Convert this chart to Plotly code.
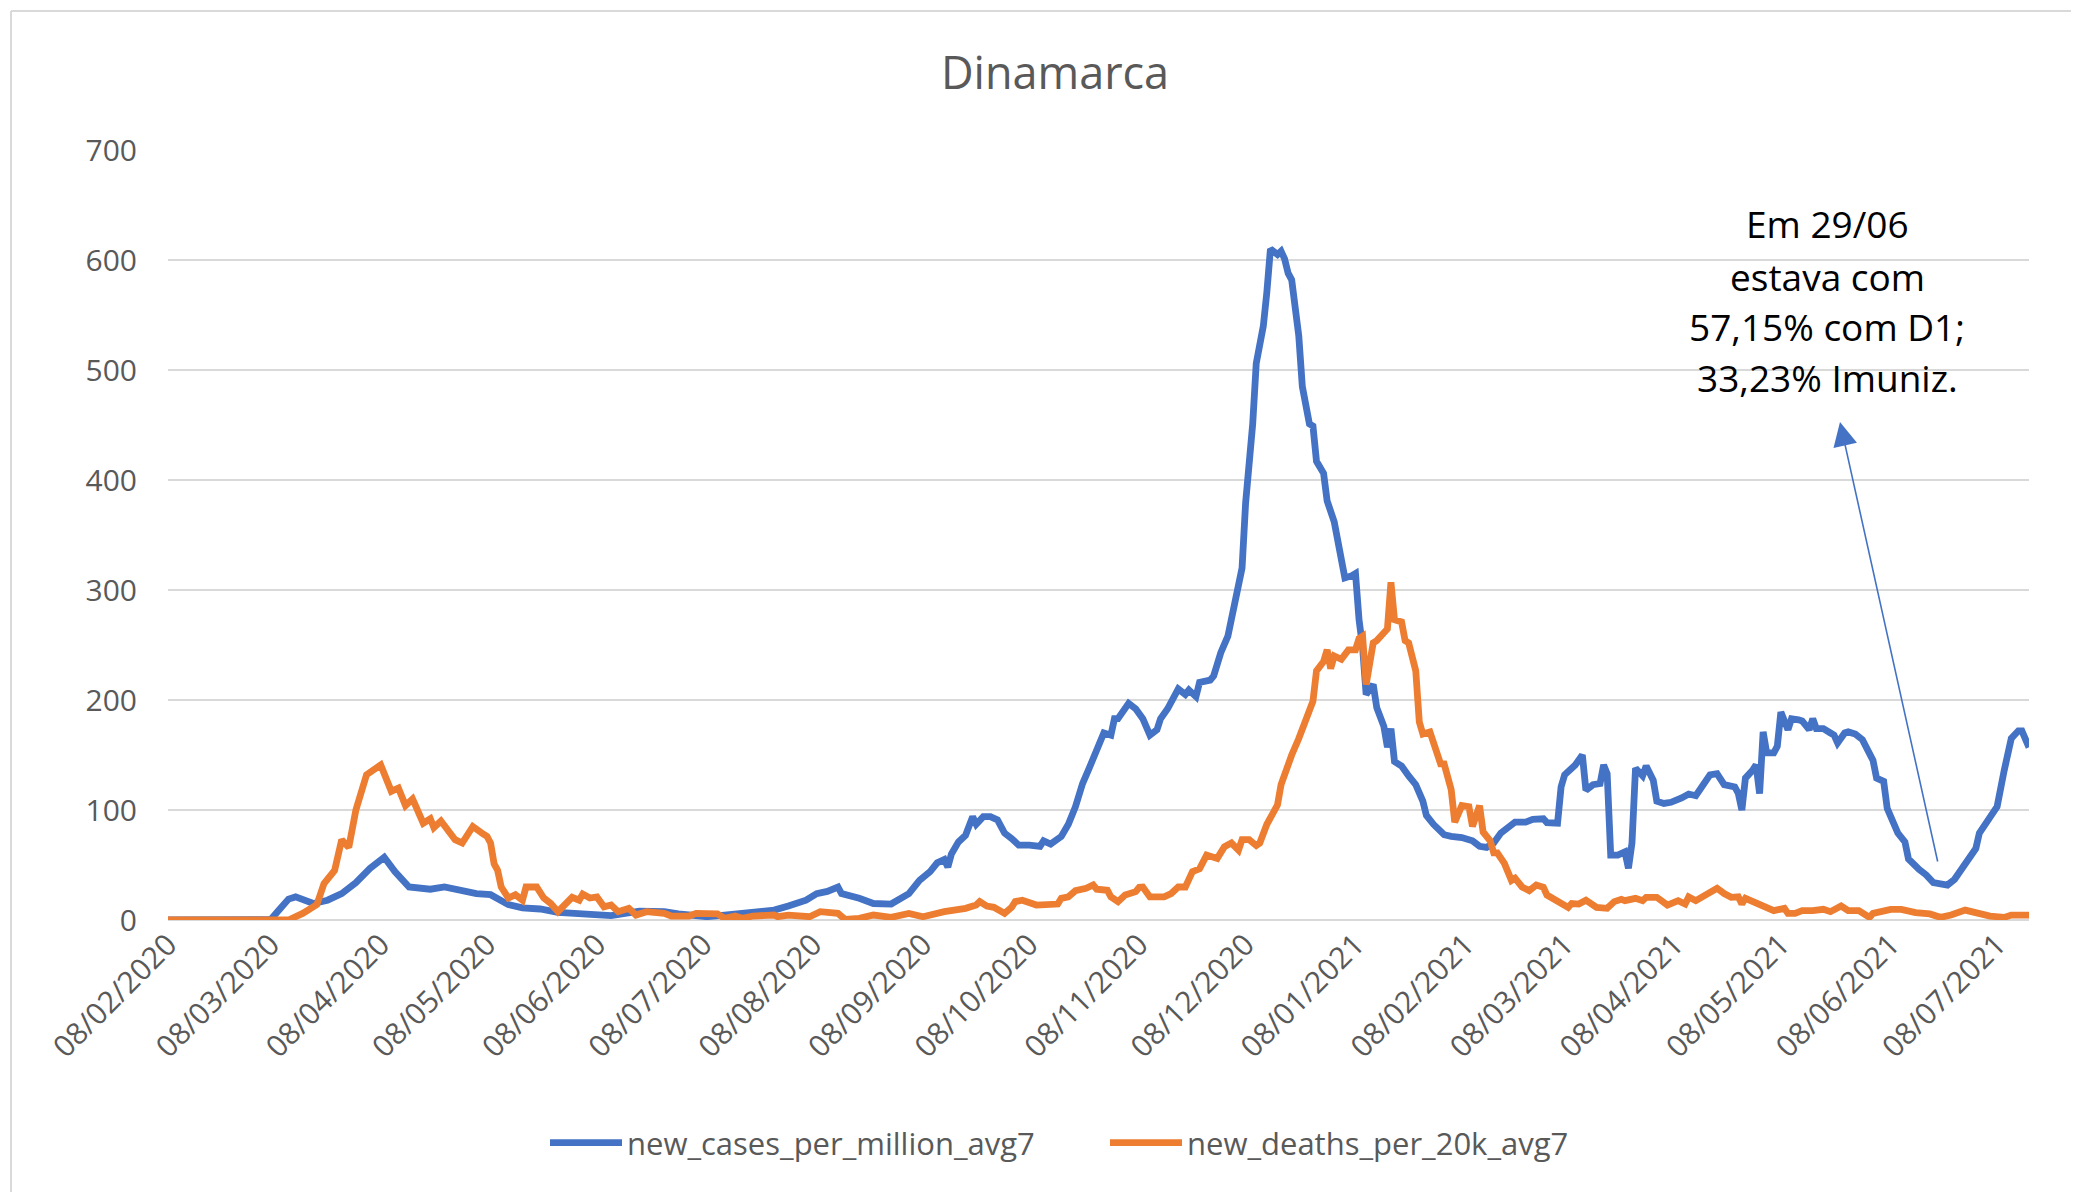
import pandas as pd
import plotly.graph_objects as go

# ---------------- DATA ----------------
title_text = "Dinamarca"
series_names = ["new_cases_per_million_avg7", "new_deaths_per_20k_avg7"]

cases_dates = [
    "2020-02-08", "2020-03-01", "2020-03-08", "2020-03-10", "2020-03-13", "2020-03-15", "2020-03-17",
    "2020-03-20", "2020-03-24", "2020-03-28", "2020-04-01", "2020-04-05", "2020-04-09", "2020-04-12",
    "2020-04-16", "2020-04-22", "2020-04-26", "2020-05-01", "2020-05-05", "2020-05-09", "2020-05-14",
    "2020-05-18", "2020-05-23", "2020-05-28", "2020-06-06", "2020-06-12", "2020-06-20", "2020-06-27",
    "2020-07-01", "2020-07-09", "2020-07-14", "2020-07-23", "2020-07-28", "2020-08-01", "2020-08-06",
    "2020-08-09", "2020-08-12", "2020-08-15", "2020-08-16", "2020-08-21", "2020-08-25", "2020-08-30",
    "2020-09-01", "2020-09-04", "2020-09-07", "2020-09-10", "2020-09-12", "2020-09-14", "2020-09-15",
    "2020-09-16", "2020-09-18", "2020-09-20", "2020-09-22", "2020-09-23", "2020-09-25", "2020-09-27",
    "2020-09-29", "2020-10-01", "2020-10-03", "2020-10-05", "2020-10-08", "2020-10-11", "2020-10-12",
    "2020-10-14", "2020-10-17", "2020-10-19", "2020-10-21", "2020-10-23", "2020-10-25", "2020-10-27",
    "2020-10-29", "2020-10-31", "2020-11-01", "2020-11-02", "2020-11-05", "2020-11-07", "2020-11-09",
    "2020-11-11", "2020-11-13", "2020-11-14", "2020-11-16", "2020-11-19", "2020-11-21", "2020-11-22",
    "2020-11-24", "2020-11-25", "2020-11-28", "2020-11-29", "2020-12-01", "2020-12-03", "2020-12-05",
    "2020-12-07", "2020-12-08", "2020-12-10", "2020-12-11", "2020-12-13", "2020-12-14", "2020-12-15",
    "2020-12-17", "2020-12-18", "2020-12-19", "2020-12-20", "2020-12-21", "2020-12-23", "2020-12-24",
    "2020-12-26", "2020-12-27", "2020-12-28", "2020-12-30", "2020-12-31", "2021-01-02", "2021-01-04",
    "2021-01-05", "2021-01-07", "2021-01-08", "2021-01-09", "2021-01-10", "2021-01-11", "2021-01-13",
    "2021-01-14", "2021-01-16", "2021-01-17", "2021-01-18", "2021-01-19", "2021-01-21", "2021-01-23",
    "2021-01-25", "2021-01-27", "2021-01-28", "2021-01-30", "2021-02-02", "2021-02-04", "2021-02-07",
    "2021-02-10", "2021-02-12", "2021-02-14", "2021-02-16", "2021-02-18", "2021-02-22", "2021-02-25",
    "2021-02-27", "2021-03-02", "2021-03-03", "2021-03-06", "2021-03-07", "2021-03-08", "2021-03-10",
    "2021-03-11", "2021-03-13", "2021-03-14", "2021-03-16", "2021-03-18", "2021-03-19", "2021-03-20",
    "2021-03-21", "2021-03-23", "2021-03-25", "2021-03-26", "2021-03-27", "2021-03-28", "2021-03-30",
    "2021-03-31", "2021-04-02", "2021-04-03", "2021-04-05", "2021-04-07", "2021-04-10", "2021-04-12",
    "2021-04-14", "2021-04-16", "2021-04-18", "2021-04-20", "2021-04-22", "2021-04-25", "2021-04-26",
    "2021-04-27", "2021-04-28", "2021-04-30", "2021-05-01", "2021-05-02", "2021-05-03", "2021-05-04",
    "2021-05-06", "2021-05-07", "2021-05-08", "2021-05-10", "2021-05-11", "2021-05-13", "2021-05-14",
    "2021-05-16", "2021-05-17", "2021-05-18", "2021-05-20", "2021-05-22", "2021-05-23", "2021-05-24",
    "2021-05-26", "2021-05-27", "2021-05-29", "2021-05-31", "2021-06-02", "2021-06-03", "2021-06-04",
    "2021-06-06", "2021-06-07", "2021-06-08", "2021-06-10", "2021-06-12", "2021-06-13", "2021-06-16",
    "2021-06-18", "2021-06-20", "2021-06-22", "2021-06-24", "2021-06-26", "2021-06-28", "2021-06-30",
    "2021-07-02", "2021-07-03", "2021-07-06", "2021-07-08", "2021-07-10", "2021-07-12", "2021-07-14",
    "2021-07-15", "2021-07-17",
]
cases_values = [
    0, 0, 0.5, 8, 19, 21, 19,
    15, 18, 24, 34, 47, 57, 44,
    30, 28, 30, 26, 24, 23, 14,
    11, 10, 7, 6, 4, 8, 7.5,
    5.5, 3, 4.5, 6.7, 9, 12.7, 18,
    24, 26, 30, 24, 19.7, 15, 14.5,
    18, 24, 36, 44, 52, 55, 48,
    60, 71, 77, 94, 87, 94, 94,
    91, 79, 74, 68, 68, 67, 72,
    69, 76, 87, 103, 124, 139, 154,
    170, 168, 183, 183, 197, 192, 183,
    168, 173, 183, 192, 210, 205, 209,
    203, 216, 218, 222, 243, 258, 286,
    320, 379, 451, 506, 540, 571, 610,
    605, 608, 601, 588, 582, 531, 485,
    451, 449, 417, 406, 381, 362, 332,
    311, 313, 315, 273, 248, 205, 214,
    193, 176, 157, 174, 144, 140, 131,
    123, 108, 95, 87, 77.5, 76, 75,
    72, 67, 66, 70, 79, 89, 89,
    91.5, 92, 88.5, 88, 121, 132, 138,
    141, 150, 118, 123, 124, 141, 133,
    59, 59, 62, 47, 70, 138, 131,
    140, 127, 108, 106, 107, 111, 114.5,
    113, 124, 132, 133, 123, 121, 115,
    100, 129, 136, 141, 115, 171, 152,
    152, 158, 189, 173, 183, 182, 181,
    173, 183, 174, 174, 170, 168, 161,
    170, 171, 169, 164, 151.5, 145, 129,
    126, 101.5, 94, 79, 71, 55.5, 46,
    41, 34, 32.7, 31.8, 37, 45.5, 56,
    65, 79, 92, 103, 136, 165, 172,
    172, 157,
]

deaths_dates = [
    "2020-02-08", "2020-03-13", "2020-03-17", "2020-03-21", "2020-03-23", "2020-03-26", "2020-03-28",
    "2020-03-30", "2020-04-01", "2020-04-04", "2020-04-08", "2020-04-11", "2020-04-13", "2020-04-15",
    "2020-04-17", "2020-04-20", "2020-04-22", "2020-04-23", "2020-04-25", "2020-04-29", "2020-05-01",
    "2020-05-04", "2020-05-07", "2020-05-08", "2020-05-09", "2020-05-10", "2020-05-11", "2020-05-12",
    "2020-05-14", "2020-05-16", "2020-05-18", "2020-05-19", "2020-05-22", "2020-05-24", "2020-05-26",
    "2020-05-28", "2020-06-01", "2020-06-03", "2020-06-04", "2020-06-06", "2020-06-08", "2020-06-10",
    "2020-06-12", "2020-06-14", "2020-06-17", "2020-06-19", "2020-06-22", "2020-06-27", "2020-06-29",
    "2020-07-04", "2020-07-06", "2020-07-12", "2020-07-14", "2020-07-17", "2020-07-19", "2020-07-22",
    "2020-07-28", "2020-07-29", "2020-08-01", "2020-08-07", "2020-08-10", "2020-08-15", "2020-08-17",
    "2020-08-21", "2020-08-25", "2020-08-30", "2020-09-04", "2020-09-08", "2020-09-14", "2020-09-17",
    "2020-09-20", "2020-09-23", "2020-09-24", "2020-09-26", "2020-09-28", "2020-10-01", "2020-10-03",
    "2020-10-04", "2020-10-06", "2020-10-10", "2020-10-16", "2020-10-17", "2020-10-19", "2020-10-21",
    "2020-10-24", "2020-10-26", "2020-10-27", "2020-10-30", "2020-10-31", "2020-11-02", "2020-11-04",
    "2020-11-07", "2020-11-08", "2020-11-09", "2020-11-11", "2020-11-15", "2020-11-17", "2020-11-19",
    "2020-11-21", "2020-11-22", "2020-11-23", "2020-11-25", "2020-11-27", "2020-11-30", "2020-12-02",
    "2020-12-04", "2020-12-06", "2020-12-07", "2020-12-09", "2020-12-11", "2020-12-12", "2020-12-14",
    "2020-12-16", "2020-12-17", "2020-12-18", "2020-12-20", "2020-12-21", "2020-12-23", "2020-12-25",
    "2020-12-26", "2020-12-27", "2020-12-28", "2020-12-30", "2020-12-31", "2021-01-01", "2021-01-02",
    "2021-01-04", "2021-01-06", "2021-01-08", "2021-01-09", "2021-01-10", "2021-01-11", "2021-01-13",
    "2021-01-14", "2021-01-16", "2021-01-17", "2021-01-18", "2021-01-19", "2021-01-21", "2021-01-22",
    "2021-01-23", "2021-01-25", "2021-01-26", "2021-01-27", "2021-01-29", "2021-01-30", "2021-02-01",
    "2021-02-02", "2021-02-04", "2021-02-05", "2021-02-07", "2021-02-09", "2021-02-10", "2021-02-12",
    "2021-02-13", "2021-02-15", "2021-02-16", "2021-02-17", "2021-02-19", "2021-02-21", "2021-02-22",
    "2021-02-24", "2021-02-26", "2021-02-28", "2021-03-02", "2021-03-03", "2021-03-06", "2021-03-09",
    "2021-03-10", "2021-03-12", "2021-03-14", "2021-03-17", "2021-03-20", "2021-03-22", "2021-03-24",
    "2021-03-25", "2021-03-28", "2021-03-30", "2021-03-31", "2021-04-03", "2021-04-06", "2021-04-09",
    "2021-04-11", "2021-04-12", "2021-04-14", "2021-04-16", "2021-04-18", "2021-04-19", "2021-04-20",
    "2021-04-22", "2021-04-24", "2021-04-26", "2021-04-27", "2021-04-28", "2021-05-01", "2021-05-04",
    "2021-05-06", "2021-05-09", "2021-05-10", "2021-05-12", "2021-05-14", "2021-05-17", "2021-05-20",
    "2021-05-22", "2021-05-25", "2021-05-27", "2021-05-30", "2021-06-02", "2021-06-03", "2021-06-08",
    "2021-06-11", "2021-06-15", "2021-06-19", "2021-06-22", "2021-06-25", "2021-06-29", "2021-07-02",
    "2021-07-06", "2021-07-10", "2021-07-12", "2021-07-15", "2021-07-17",
]
deaths_values = [
    0, 0, 6, 14, 33, 45, 73,
    66, 100, 132, 141, 117, 120, 104,
    110, 88, 92, 84, 90, 73, 70,
    85, 78, 76, 70, 51, 45, 30,
    20, 23, 18, 30, 30, 20, 15,
    7.6, 20.6, 18, 23.6, 20, 21, 12,
    13.6, 7.6, 10.6, 4.5, 7.6, 6, 3.6,
    3.6, 6, 5.5, 1.5, 3.6, 1.5, 3.6,
    4.5, 3, 4.5, 3, 7.6, 6, 0.5,
    1.5, 4.5, 2.4, 6, 3, 7.6, 8.5,
    10.6, 13.6, 16.7, 12.7, 11.5, 6, 11.5,
    16.7, 18, 13.6, 14.5, 19.7, 21, 26.7,
    28.8, 31.8, 28, 27, 21, 16.7, 22.7,
    25.8, 29.7, 30, 21, 21, 24, 30,
    30, 37, 44, 46.5, 59, 56, 66.5,
    70, 63.5, 73, 73, 67.7, 70, 87,
    97, 104.6, 123, 144, 150, 165, 184,
    193, 199, 226.5, 235, 245.6, 228.6, 240,
    237, 245.6, 245.6, 256, 258, 214, 252,
    254, 262.5, 264.6, 307, 273, 271, 254,
    252, 226.5, 180, 169, 171, 161, 142,
    142, 118.5, 89, 104, 103, 85, 104,
    80, 72, 61, 61, 51.5, 36, 38,
    30, 26.7, 31.8, 29.7, 22.7, 17.6, 11.5,
    15, 14.5, 18, 11.5, 10.6, 16.7, 18.8,
    17.6, 19.7, 17.6, 20.6, 20.6, 13.6, 17.6,
    14.5, 21, 17.6, 21, 24, 25.8, 28.8,
    24, 20.6, 21, 14.5, 19.7, 15.8, 12,
    8.5, 10.6, 6, 6, 8.5, 8.5, 9.7,
    7.6, 12.7, 8.5, 8.5, 2.4, 6, 9.7,
    9.7, 6.7, 5.5, 2.4, 4.5, 9, 6,
    3.6, 2.4, 4.5, 4.5, 4.5,
]

x_tick_labels = [
    "08/02/2020", "08/03/2020", "08/04/2020", "08/05/2020", "08/06/2020", "08/07/2020",
    "08/08/2020", "08/09/2020", "08/10/2020", "08/11/2020", "08/12/2020", "08/01/2021",
    "08/02/2021", "08/03/2021", "08/04/2021", "08/05/2021", "08/06/2021", "08/07/2021",
]
y_range = [0, 700]

annotation_lines = ["Em 29/06", "estava com", "57,15% com D1;", "33,23% Imuniz."]

# ---------------- FIGURE ----------------
blue = "#4472C4"
orange = "#ED7D31"
grid = "#D9D9D9"
txt = "#595959"
font_family = "Open Sans"

OFF = 8  # page body margin in the browser
W, H = 2079 - OFF, 1192 - OFF
# plot area in page (screenshot) pixels
L, R, T, B = 168 - OFF, 2029 - OFF, 150 - OFF, 920 - OFF


def px_x(p):
    """screenshot x pixel -> paper fraction"""
    return (p - OFF - L) / (R - L)


def px_y(p):
    """screenshot y pixel -> paper fraction"""
    return (B - (p - OFF)) / (B - T)


x_tick_vals = list(pd.to_datetime(x_tick_labels, format="%d/%m/%Y"))

fig = go.Figure()
fig.add_trace(go.Scatter(
    x=pd.to_datetime(cases_dates), y=cases_values, mode="lines",
    name=series_names[0], line=dict(color=blue, width=6.8),
))
fig.add_trace(go.Scatter(
    x=pd.to_datetime(deaths_dates), y=deaths_values, mode="lines",
    name=series_names[1], line=dict(color=orange, width=6.8),
))

fig.update_layout(
    width=W, height=H,
    margin=dict(l=L, r=W - R, t=T, b=H - B, autoexpand=False),
    paper_bgcolor="white", plot_bgcolor="white",
    font=dict(family=font_family, color=txt),
    title=dict(text=title_text, x=(1055 - OFF) / W, xref="container", xanchor="center",
               y=1 - (73 - OFF) / H, yanchor="middle",
               font=dict(size=45, color=txt, family=font_family)),
    showlegend=True,
    legend=dict(orientation="h", x=px_x(545), xanchor="left", y=px_y(1143), yanchor="middle",
                font=dict(size=31, color=txt, family=font_family), bgcolor="rgba(0,0,0,0)",
                itemwidth=72, entrywidth=473, tracegroupgap=0),
)

fig.update_xaxes(
    type="date", range=[cases_dates[0], cases_dates[-1]],
    tickmode="array", tickvals=x_tick_vals, ticktext=x_tick_labels,
    tickangle=-45, tickfont=dict(size=30, color=txt, family=font_family),
    showgrid=False, zeroline=False, showline=False, ticks="",
)
fig.update_yaxes(
    range=y_range, dtick=100, tick0=0,
    showgrid=True, gridcolor=grid, gridwidth=1.5,
    zeroline=True, zerolinecolor=grid, zerolinewidth=2,
    tickfont=dict(size=30, color=txt, family=font_family),
    ticks="", showline=False, ticklabelstandoff=30,
)

# chart-area border (Excel style): only left and top edges are inside the picture
fig.add_shape(type="line", xref="paper", yref="paper",
              x0=px_x(11), x1=px_x(11), y0=px_y(1200), y1=px_y(11),
              line=dict(color=grid, width=2), layer="below")
fig.add_shape(type="line", xref="paper", yref="paper",
              x0=px_x(11), x1=px_x(2100), y0=px_y(11), y1=px_y(11),
              line=dict(color=grid, width=2), layer="below")

# text annotation, one line each
line_centers = [223, 276, 326, 377]
for line_text, yc in zip(annotation_lines, line_centers):
    fig.add_annotation(
        xref="paper", yref="paper", x=px_x(1827), y=px_y(yc), xanchor="center", yanchor="middle",
        text=line_text, showarrow=False, align="center",
        font=dict(size=37, color="black", family=font_family),
    )

# arrow (tail near the minimum, head below the text)
fig.add_annotation(
    xref="paper", yref="paper", x=px_x(1840), y=px_y(422),
    ax=1938 - 1840, ay=863 - 422, axref="pixel", ayref="pixel",
    text="", showarrow=True, arrowhead=2, arrowsize=3, arrowwidth=1.6, arrowcolor=blue,
)

fig.write_html("out.html")
